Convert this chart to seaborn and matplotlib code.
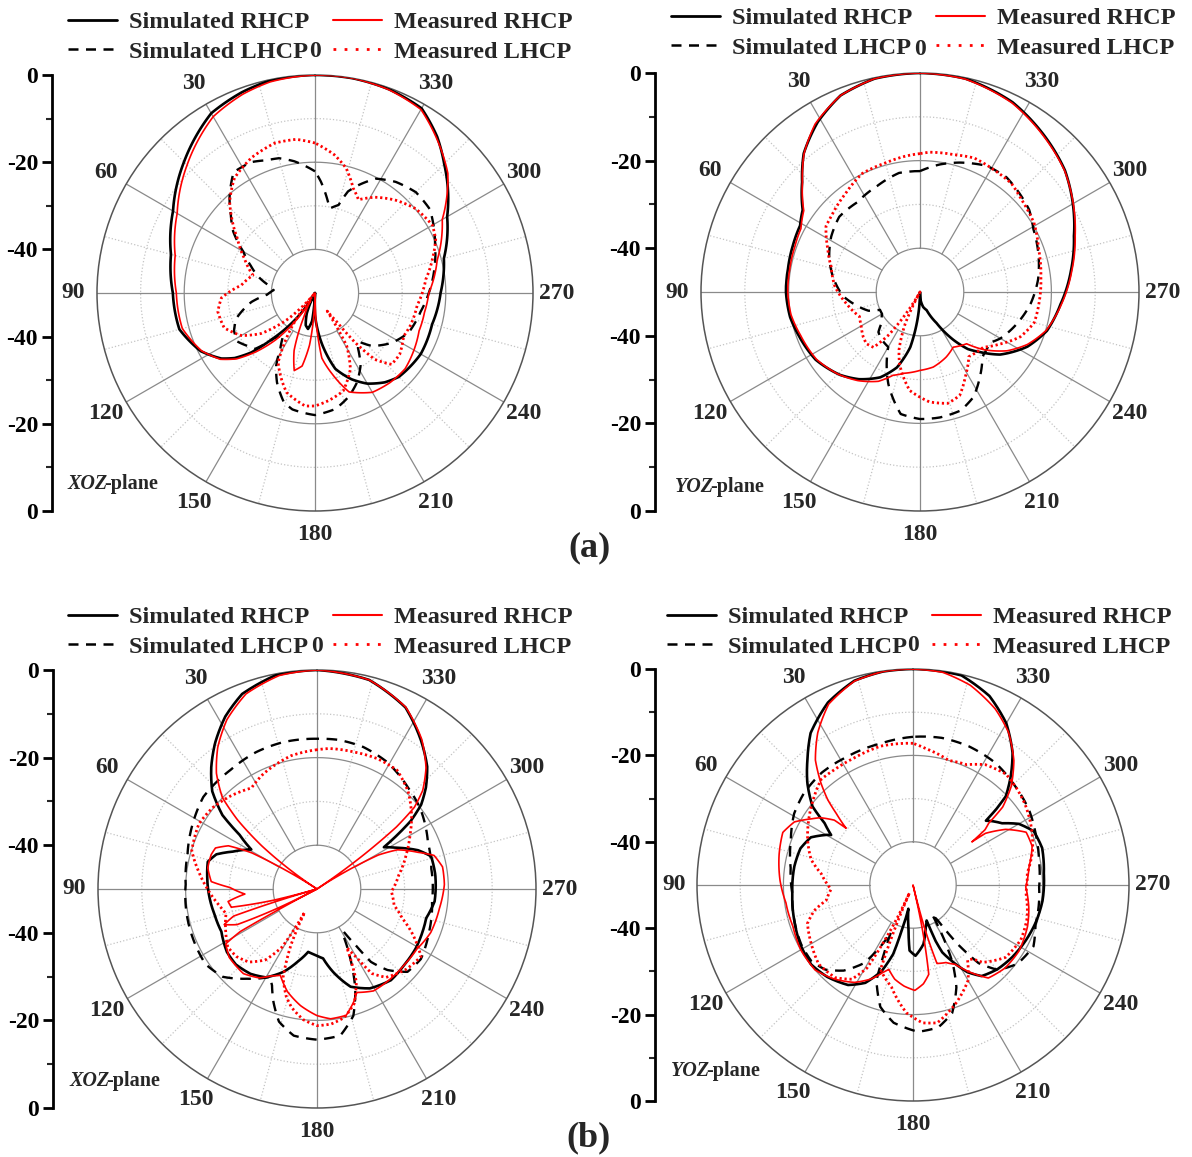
import numpy as np
import matplotlib
matplotlib.use("Agg")
import matplotlib.pyplot as plt
from matplotlib.lines import Line2D
import seaborn as sns

# ---------------- data (angle in degrees, normalized gain in dB) ----------------
# (a) XOZ-plane
a_xoz_sim_rhcp_deg = [0, 12, 20, 30, 45, 60, 75, 90, 105, 117, 125, 129, 133, 137, 142, 147, 152, 158, 164, 169,
                      174, 178, 180, 183, 188, 195, 203, 210, 218, 225, 240, 255, 270, 285, 300, 315, 322, 330, 340, 350, 360]
a_xoz_sim_rhcp_db = [0, -0.2, -1.0, -2.4, -7.5, -12.4, -15.8, -17.4, -17.8, -20.6, -23.8, -26.3, -30, -35.5, -41, -46, -50, -45, -42.3, -41.6,
                     -43.5, -50, -45, -42.5, -38, -32, -28.5, -26, -24, -22.8, -22, -22.2, -21.2, -19.4, -15, -8.1, -4.5, -1.1, -0.3, 0, 0]
a_xoz_mea_rhcp_deg = [0, 12, 20, 30, 45, 60, 75, 90, 105, 117, 125, 130, 135, 140, 145, 150, 155, 160, 165, 170,
                      174, 178, 180, 182, 186, 192, 199, 210, 220, 230, 240, 250, 260, 270, 285, 300, 312, 322, 330, 340, 350, 360]
a_xoz_mea_rhcp_db = [0, -0.5, -1.5, -3.3, -8.5, -13.5, -16.8, -18.2, -18.5, -20.8, -23.5, -26.5, -31, -36, -42, -48, -44, -36, -31.6, -33,
                     -38, -47, -50, -44, -35, -31, -26, -23.7, -23.2, -23, -23.8, -24.6, -24.5, -23.9, -21, -16.3, -9, -4.8, -1.4, -0.4, 0, 0]
a_xoz_sim_lhcp_deg = [0, 9, 15, 20, 26, 34, 42, 47, 53, 60, 67, 74, 80, 86, 92, 98, 108, 115, 122, 128,
                      133, 138, 143, 148, 152, 157, 164, 169, 180, 190, 198, 205, 212, 218, 222, 227, 237, 247, 260, 270,
                      280, 292, 306, 315, 324, 332, 338, 342, 345, 350, 352, 357, 360]
a_xoz_sim_lhcp_db = [-22.1, -19.4, -18, -17.6, -16.6, -16.6, -20.7, -23.6, -26.5, -31, -34, -36.5, -39, -40.5, -39, -35.3, -31, -29.5, -29, -30.3,
                     -31.2, -36, -38, -35, -31, -27.7, -24, -22.8, -22, -23, -25, -27.3, -30.3, -34, -35, -32.2, -29, -26.7, -25.4, -23.9,
                     -22.3, -20.3, -17.4, -17.3, -18.5, -20.3, -23.3, -25.5, -29.1, -30.3, -28.8, -24.4, -22.1]
a_xoz_mea_lhcp_deg = [0, 7, 15, 25, 35, 43, 48, 55, 64, 74, 84, 93, 101, 111, 120, 127, 134, 140, 146, 152,
                      156, 164, 175, 180, 187, 196, 205, 211, 214, 217, 219, 222, 227, 234, 244, 251, 263, 277, 286, 294,
                      300, 310, 319, 328, 335, 340, 346, 352, 360]
a_xoz_mea_lhcp_db = [-15.6, -14.5, -14.4, -15.7, -17.8, -21.3, -24.3, -28.3, -32, -35.2, -33, -28.5, -27.3, -27.7, -30.5, -34.6, -41.5, -50, -40, -32,
                     -30.1, -26.3, -24, -24.1, -25.1, -26.6, -30.8, -35.9, -45, -42, -35.4, -29.5, -26, -26, -27.4, -26.9, -26.4, -24.4, -22, -19.7,
                     -18.9, -19.9, -21.8, -24.1, -26.4, -24.4, -20.5, -18, -15.6]

# (a) YOZ-plane
a_yoz_sim_rhcp_deg = [0, 12, 22, 31, 40, 47, 55, 61, 70, 80, 90, 101, 110, 123, 136, 145, 155, 163, 170, 174,
                      178, 180, 185, 192, 200, 208, 215, 220, 225, 232, 243, 253, 265, 278, 290, 300, 310, 321, 334, 348, 360]
a_yoz_sim_rhcp_db = [0, -0.2, -1.6, -4.7, -8.7, -13.2, -17.3, -18.7, -19.1, -19.4, -19.4, -19.8, -20.6, -21.6, -23.7, -25.7, -28.5, -32, -37.2, -42.7,
                     -48, -50, -48, -46.5, -45.6, -42, -36.6, -33, -30.6, -26.8, -22.5, -19.7, -17.8, -15.2, -12.6, -9.7, -6.8, -4.5, -1.8, -0.2, 0]
a_yoz_mea_rhcp_deg = [0, 12, 22, 32, 40, 47, 55, 62, 70, 80, 90, 100, 110, 123, 135, 145, 155, 162, 169, 180,
                      190, 202, 211, 222, 228, 236, 244, 253, 265, 278, 290, 300, 310, 321, 334, 348, 360]
a_yoz_mea_rhcp_db = [0, -0.2, -1.6, -4.8, -8.8, -13.3, -17.6, -19.2, -19.6, -19.8, -19.8, -20.1, -21, -21.8, -23.5, -25.3, -27.5, -30, -31.1, -32.1,
                     -32.6, -34, -35.3, -34.1, -30.3, -26, -22.7, -19.9, -17.6, -15, -12.3, -9.6, -6.9, -4.7, -2, -0.3, 0]
a_yoz_sim_lhcp_deg = [0, 10, 22, 35, 47, 58, 69, 80, 93, 102, 110, 114, 120, 129, 134, 142, 150, 155, 161, 171,
                      180, 189, 199, 207, 215, 224, 234, 240, 252, 264, 276, 287, 299, 307, 315, 323, 332, 343, 351, 360]
a_yoz_sim_lhcp_db = [-22.4, -22.4, -23.9, -25, -24.8, -26.1, -27.8, -29.8, -32.4, -35.2, -37.5, -40, -40, -38.7, -36.8, -36, -35.5, -32, -27.8, -21.8,
                     -21, -21, -21.4, -23.1, -26.2, -29.5, -30.3, -28.8, -26.7, -24.6, -22.9, -21.7, -20.4, -18.8, -18, -17.2, -17.4, -19.1, -20.5, -22.4]
a_yoz_mea_lhcp_deg = [0, 6, 15, 26, 37, 48, 55, 64, 74, 86, 99, 112, 120, 128, 134, 140, 144, 148, 151, 155,
                      160, 164, 174, 185, 194, 201, 208, 217, 229, 237, 246, 255, 265, 277, 290, 301, 311, 320, 329, 338,
                      346, 356, 360]
a_yoz_mea_lhcp_db = [-18.4, -18.8, -19.5, -19.9, -21.8, -23.2, -23.8, -26.5, -28.9, -30.5, -33, -35.1, -34.5, -33.5, -33, -33.5, -38, -46, -50, -42,
                     -36, -33, -27.4, -24.8, -23.8, -24.7, -28, -31.5, -30.8, -28.2, -24.9, -23, -22.7, -22.2, -21.2, -19.6, -18.8, -17.6, -17.4, -17,
                     -17.7, -18, -18.4]

# (b) XOZ-plane
b_xoz_sim_rhcp_deg = [0, 11, 21, 28, 35, 41, 47, 52, 55, 59, 62, 66, 71, 76, 84, 95, 104, 114, 125, 133,
                      142, 150, 158, 165, 172, 178, 185, 191, 199, 208, 219, 229, 239, 248, 255, 264, 277, 286, 291, 297,
                      302, 304, 306, 309, 313, 318, 325, 334, 346, 360]
b_xoz_sim_rhcp_db = [0, -0.3, -2.3, -5.4, -9.4, -13.2, -17.3, -22.6, -28.4, -32.5, -31, -29, -25.7, -24.3, -24.8, -25.4, -25.9, -26.1, -24.9, -24.7,
                     -25.4, -26.7, -29.6, -32.8, -35.5, -35, -34.1, -30.7, -26.4, -24.3, -23.2, -23.6, -23.7, -24, -24.2, -23, -22.8, -22.9, -25.3, -29.3,
                     -32, -27.8, -23.5, -19.4, -16, -12.4, -8.6, -3.9, -0.8, 0]
b_xoz_mea_rhcp_deg = [0, 10, 20, 28, 35, 41, 46, 49, 52, 55, 57, 59, 61, 64, 68, 72, 79, 86, 89, 94,
                      98, 102, 104.5, 106, 108, 111, 114, 116, 117.5, 119, 121, 128, 139, 147, 152, 157, 164, 172, 180, 186,
                      193, 198, 201, 209, 219, 229, 239, 249, 261, 272, 280, 286, 290, 296, 299, 302, 304, 306, 308, 310,
                      313, 318, 325, 334, 346, 360]
b_xoz_mea_rhcp_db = [0, -0.5, -2.6, -6.2, -10.5, -15, -20, -26, -34, -44, -50, -42, -33, -27.5, -25, -24.6, -24.6, -25.8, -30.1, -33.5,
                     -29.5, -30, -40, -50, -30, -27.3, -30, -40, -50, -30, -25.7, -24.6, -24.4, -25.8, -27.5, -28.6, -25.6, -23.1, -21.1, -20.2,
                     -20.4, -22.9, -24.7, -23.4, -23.5, -23.6, -23.4, -22.2, -21.7, -20.9, -20.9, -22.2, -25.5, -29.6, -34, -45, -50, -38, -27, -21,
                     -17, -12.8, -8.3, -3.8, -0.8, 0]
b_xoz_sim_lhcp_deg = [0, 13, 24, 36, 51, 61, 75, 88, 101, 112, 124, 133, 142, 152, 155, 159, 164, 171, 180, 189,
                      196, 201, 206, 210, 212, 214.5, 216.5, 221, 227.5, 236, 249, 264, 280, 293, 308, 318, 331, 342, 352, 360]
b_xoz_sim_lhcp_db = [-15.7, -15.6, -15.8, -16.4, -16.6, -17.8, -19.4, -20, -19.7, -19.5, -19.3, -20.6, -24, -27.3, -25.7, -22.3, -18.5, -16.1, -15.6, -16.1,
                     -19.9, -25.6, -33, -38.5, -38.5, -34.5, -29.3, -25.5, -22, -21.4, -22.6, -23.6, -23.5, -22.5, -20.1, -18.9, -16.9, -15.9, -15.6, -15.7]
b_xoz_mea_lhcp_deg = [0, 11, 25, 33, 43, 52, 61, 73, 82, 90, 98, 105, 115, 123, 130, 137, 144, 149, 152, 155,
                      159, 164, 168, 174, 180, 186, 192, 198, 203, 207, 210, 213, 218, 228, 237, 245, 251, 258, 268, 280,
                      291, 300, 308, 317, 326, 335, 345, 355, 360]
b_xoz_mea_lhcp_db = [-18.2, -19, -21, -22.5, -21, -19.8, -19.2, -20.1, -22.8, -25, -27, -28.5, -27, -25.7, -26, -27.2, -30, -34.6, -44, -36,
                     -28.4, -24.5, -22.3, -20, -18.8, -19, -20, -22.5, -27, -35, -32, -27, -24.4, -22.6, -21.7, -26, -29.4, -32, -33, -31,
                     -28.2, -25.5, -22.6, -19.5, -17.3, -17.2, -17.6, -17.8, -18.2]

# (b) YOZ-plane
b_yoz_sim_rhcp_deg = [0, 8, 16, 25, 34, 40, 46, 52, 55, 58.6, 60, 65, 72, 81, 94, 107, 118, 128, 137, 147,
                      154, 160, 164, 166, 169, 174, 177, 182, 190, 196, 199, 201, 202, 203.5, 207, 212, 217, 225, 234, 244,
                      253, 263, 275, 286, 294, 300, 304.7, 309, 311.4, 312.3, 313.7, 318, 323, 330, 338, 347, 360]
b_yoz_sim_rhcp_db = [0, -0.1, -0.8, -3.4, -7.6, -12, -16, -20.5, -25, -27.8, -26.8, -23.9, -22.6, -22.2, -22, -21.3, -20.5, -20.1, -20.9, -22.4,
                     -24.8, -28.8, -33.4, -39.1, -44.4, -40.1, -34.8, -33.6, -36.1, -39.5, -40.5, -41.2, -36, -33, -30.3, -26.2, -23.6, -22.4, -21.6, -20.9,
                     -20.3, -19.8, -19.6, -18.9, -19.4, -21.7, -24.9, -26.5, -27.5, -24, -20.3, -16.2, -11.7, -6.8, -2.8, -0.2, 0]
b_yoz_mea_rhcp_deg = [0, 8, 16, 25, 32, 38, 42, 45, 47, 49.7, 50.5, 54, 57, 62, 68, 77, 88, 98, 109, 120,
                      131, 140, 149, 156, 161, 164, 169, 175, 181, 186, 190, 192, 193.5, 195, 197, 203, 208, 213, 219, 228,
                      238, 250, 259, 269, 279, 288, 295, 301, 305.5, 306.2, 307.5, 309.2, 311, 315, 321, 328, 335, 344, 352, 360]
b_yoz_mea_rhcp_db = [0, -0.1, -0.9, -3.8, -8.4, -13.3, -18.1, -22.1, -25.7, -29.7, -26.4, -23.5, -21.9, -18.9, -17.5, -18.2, -19.2, -20.3, -20.6, -20,
                     -20, -21.6, -23.7, -26.2, -28.6, -29.7, -27.8, -26.5, -25.6, -27, -29, -40, -50, -40, -31, -30.5, -29.2, -26, -22.3, -21.3,
                     -21.1, -21.8, -22.7, -23.9, -22.8, -21, -21.1, -25, -29.4, -33.1, -29, -27.4, -22.5, -17.9, -12.9, -8.3, -5, -1.9, -0.3, 0]
b_yoz_sim_lhcp_deg = [0, 13, 27, 39, 50, 59, 70, 82, 94, 107, 118, 127, 134, 141, 148, 153, 155, 157, 159, 165,
                      172, 182, 190, 197, 203, 207, 210, 213, 215, 217, 220, 225, 233, 243, 252, 269, 281, 293, 303, 314,
                      326, 338, 349, 360]
b_yoz_sim_lhcp_db = [-15.7, -16.4, -16.6, -16.5, -17, -17.9, -19.9, -21.4, -22, -21.3, -20.7, -20.6, -21.8, -24.5, -28.7, -35, -38, -33, -26.4, -20.8,
                     -17.8, -16, -16.5, -19, -24.3, -29.8, -36, -42, -40, -33, -26.4, -22.2, -19.7, -18.7, -20.2, -20.8, -20.3, -19.2, -18, -17.1,
                     -15.9, -15.4, -15.3, -15.7]
b_yoz_mea_lhcp_deg = [0, 13, 25, 34, 41, 49, 57, 67, 76, 83, 93, 100, 104.5, 110, 120, 130, 140, 147, 151, 154,
                      156, 159, 168, 177, 184, 190, 200, 210, 216, 219, 222, 232, 243, 254, 266, 276, 286, 298, 306, 313,
                      320, 329, 336, 344, 350, 354, 360]
b_yoz_mea_lhcp_db = [-17.2, -17, -17.6, -17.7, -17.6, -19.5, -21.3, -23.5, -25.7, -28.6, -31, -29.6, -26.4, -24, -22.8, -21.5, -22, -24, -28, -40,
                     -48, -29, -25.9, -20.4, -18, -17.6, -20.9, -24.5, -28.5, -28, -25.9, -22.8, -22, -22.5, -23.8, -23.4, -21.2, -19.2, -18, -17.2,
                     -16.5, -17.5, -19.5, -20, -19, -18.4, -17.2]

angle_tick_values = [0, 30, 60, 90, 120, 150, 180, 210, 240, 270, 300, 330]
angle_tick_labels = ['0', '30', '60', '90', '120', '150', '180', '210', '240', '270', '300', '330']
radial_tick_labels = ['0', '-20', '-40', '-40', '-20', '0']
legend_labels = ['Simulated RHCP', 'Simulated LHCP', 'Measured RHCP', 'Measured LHCP']
plane_names = ['XOZ', 'YOZ', 'XOZ', 'YOZ']
panel_tags = ['(a)', '(b)']

# ---------------- style ----------------
sns.set_theme(style='white')
plt.rcParams['font.family'] = ['Liberation Serif', 'DejaVu Serif']
plt.rcParams['font.weight'] = 'bold'

W, H = 1192, 1157
fig = plt.figure(figsize=(W / 100, H / 100), dpi=100)
fig.patch.set_facecolor('white')


def fx(x):
    return x / W


def fy(y):
    return 1 - y / H


RED = '#ff0000'
series_styles = [
    dict(color='black', linewidth=1.9, linestyle='-', zorder=4),              # sim RHCP
    dict(color='black', linewidth=1.7, linestyle=(0, (4.5, 3.2)), zorder=4),  # sim LHCP
    dict(color=RED, linewidth=1.2, linestyle='-', zorder=5),                   # meas RHCP
    dict(color=RED, linewidth=2.0, linestyle=(0, (0.8, 1.0)), zorder=5),       # meas LHCP
]
legend_styles = [
    dict(color='black', linewidth=2.0, linestyle='-'),
    dict(color='black', linewidth=1.8, linestyle=(0, (4, 3))),
    dict(color=RED, linewidth=1.5, linestyle='-'),
    dict(color=RED, linewidth=2.0, linestyle=(0, (1, 3))),
]

panels = [
    dict(data=[(a_xoz_sim_rhcp_deg, a_xoz_sim_rhcp_db), (a_xoz_sim_lhcp_deg, a_xoz_sim_lhcp_db),
               (a_xoz_mea_rhcp_deg, a_xoz_mea_rhcp_db), (a_xoz_mea_lhcp_deg, a_xoz_mea_lhcp_db)],
         cx=315, cy=293, R=218, spine=52, leg=(68, 11), plane=(68, 484), name=plane_names[0]),
    dict(data=[(a_yoz_sim_rhcp_deg, a_yoz_sim_rhcp_db), (a_yoz_sim_lhcp_deg, a_yoz_sim_lhcp_db),
               (a_yoz_mea_rhcp_deg, a_yoz_mea_rhcp_db), (a_yoz_mea_lhcp_deg, a_yoz_mea_lhcp_db)],
         cx=920, cy=292, R=219, spine=655, leg=(671, 7), plane=(675, 487), name=plane_names[1]),
    dict(data=[(b_xoz_sim_rhcp_deg, b_xoz_sim_rhcp_db), (b_xoz_sim_lhcp_deg, b_xoz_sim_lhcp_db),
               (b_xoz_mea_rhcp_deg, b_xoz_mea_rhcp_db), (b_xoz_mea_lhcp_deg, b_xoz_mea_lhcp_db)],
         cx=317, cy=889, R=219, spine=53, leg=(68, 606), plane=(70, 1081), name=plane_names[2]),
    dict(data=[(b_yoz_sim_rhcp_deg, b_yoz_sim_rhcp_db), (b_yoz_sim_lhcp_deg, b_yoz_sim_lhcp_db),
               (b_yoz_mea_rhcp_deg, b_yoz_mea_rhcp_db), (b_yoz_mea_lhcp_deg, b_yoz_mea_lhcp_db)],
         cx=913, cy=885, R=216, spine=655, leg=(667, 606), plane=(671, 1071), name=plane_names[3]),
]

GRID_DARK = '#8a8a8a'
GRID_LIGHT = '#c4c4c4'
TICK_FS = 17
LEG_FS = 17.5

for p in panels:
    cx, cy, R = p['cx'], p['cy'], p['R']
    ax = fig.add_axes([fx(cx - R), fy(cy + R), 2 * R / W, 2 * R / H], projection='polar')
    ax.set_theta_zero_location('N')
    ax.set_theta_direction(1)
    ax.patch.set_facecolor('white')

    # grid circles and spokes
    circ = np.linspace(0, 2 * np.pi, 721)
    for r, ls, col in [(-10, ':', GRID_LIGHT), (-20, '-', GRID_DARK), (-30, ':', GRID_LIGHT), (-40, '-', GRID_DARK)]:
        ax.plot(circ, np.full_like(circ, r), linestyle=ls, color=col, linewidth=0.9, zorder=1)
    for a in range(0, 360, 15):
        major = (a % 30 == 0)
        ax.plot([np.deg2rad(a)] * 2, [-40, 0], linestyle='-' if major else ':',
                color=GRID_DARK if major else GRID_LIGHT, linewidth=0.9, zorder=1)

    # curves (drawn as smooth arcs/spirals between the read points by the polar transform)
    for (deg, db), st in zip(p['data'], series_styles):
        n_before = len(ax.lines)
        sns.lineplot(x=np.deg2rad(np.asarray(deg, dtype=float)), y=np.asarray(db, dtype=float), ax=ax,
                     sort=False, estimator=None, legend=False, **st)
        for ln in ax.lines[n_before:]:
            ln.get_path()._interpolation_steps = 16

    ax.set_thetalim(0, 2 * np.pi)
    ax.set_ylim(-50, 0)
    ax.set_xticks([])
    ax.set_yticks([])
    ax.set_xlabel('')
    ax.set_ylabel('')
    ax.grid(False)
    ax.spines['polar'].set_edgecolor('#555555')
    ax.spines['polar'].set_linewidth(1.1)

    # angular labels
    for a, lbl in zip(angle_tick_values, angle_tick_labels):
        ax.text(np.deg2rad(a), 5.4, lbl, ha='center', va='center', fontsize=TICK_FS,
                fontweight='bold', clip_on=False)

    # left dB scale
    lax = fig.add_axes([fx(p['spine']), fy(cy + R), 0.0001, 2 * R / H])
    lax.set_ylim(-50, 50)
    lax.set_xticks([])
    for s in ['top', 'right', 'bottom']:
        lax.spines[s].set_visible(False)
    lax.spines['left'].set_linewidth(2.0)
    lax.spines['left'].set_color('black')
    lax.set_yticks([50, 30, 10, -10, -30, -50])
    lax.set_yticklabels(radial_tick_labels)
    lax.set_yticks([40, 20, -20, -40], minor=True)
    lax.tick_params(axis='y', which='major', length=7, width=2, direction='out', left=True,
                    labelsize=TICK_FS, pad=3, colors='black')
    lax.tick_params(axis='y', which='minor', length=4, width=1.5, direction='out', left=True)
    for t in lax.get_yticklabels():
        t.set_fontweight('bold')
    lax.patch.set_visible(False)

    # legend
    handles = [Line2D([], [], **ls) for ls in legend_styles]
    lx, ly = p['leg']
    fig.legend(handles, legend_labels, ncol=2, loc='upper left', bbox_to_anchor=(fx(lx), fy(ly)),
               bbox_transform=fig.transFigure, frameon=False,
               prop=dict(family='Liberation Serif', weight='bold', size=LEG_FS),
               handlelength=2.0, handletextpad=0.5, columnspacing=1.0, labelspacing=0.32,
               borderpad=0, borderaxespad=0)

    # plane label
    px, py = p['plane']
    t1 = fig.text(fx(px), fy(py), p['name'], ha='left', va='center', fontsize=14.5,
                  fontweight='bold', fontstyle='italic')
    lax.annotate('-plane', xy=(1, 0.5), xycoords=t1, xytext=(-2.5, 0), textcoords='offset points',
                 ha='left', va='center', fontsize=14.5, fontweight='bold', annotation_clip=False)

fig.text(fx(589), fy(548), panel_tags[0], ha='center', va='center', fontsize=26, fontweight='bold')
fig.text(fx(589), fy(1138), panel_tags[1], ha='center', va='center', fontsize=26, fontweight='bold')

fig.savefig('out.png', dpi=100, facecolor='white')
